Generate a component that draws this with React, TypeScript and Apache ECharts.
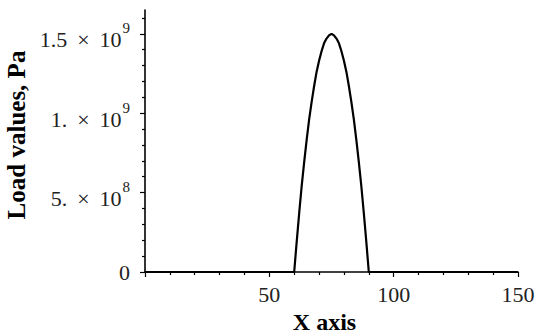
import React, { useEffect, useRef } from "react";
import * as echarts from "echarts";

// Load curve (x position, load in Pa)
const xValues = [0, 60, 61, 62, 63, 64, 65, 66, 67, 68, 69, 70, 71, 72, 73, 74, 75, 76, 77, 78, 79, 80, 81, 82, 83, 84, 85, 86, 87, 88, 89, 90, 150];
const loadValues = [
  0, 0, 0.19e9, 0.37e9, 0.54e9, 0.69e9, 0.83e9, 0.96e9, 1.07e9, 1.17e9, 1.26e9, 1.33e9, 1.39e9, 1.44e9, 1.47e9, 1.49e9, 1.5e9,
  1.49e9, 1.47e9, 1.44e9, 1.39e9, 1.33e9, 1.26e9, 1.17e9, 1.07e9, 0.96e9, 0.83e9, 0.69e9, 0.54e9, 0.37e9, 0.19e9, 0, 0,
];

// Axis ticks and labels
const xMin = 0;
const xMax = 150;
const xInterval = 50;
const yMin = 0;
const yMax = 1.65e9;
const yMajorTicks = [0, 5e8, 1e9, 1.5e9];
const yMinorTicks = [1e8, 2e8, 3e8, 4e8, 6e8, 7e8, 8e8, 9e8, 1.1e9, 1.2e9, 1.3e9, 1.4e9, 1.6e9];
const yTickMantissa = ["0", "5.", "1.", "1.5"];
const yTickExponent = ["", "8", "9", "9"];

const xTitle = "X axis";
const yTitle = "Load values, Pa";

const SERIF = "'Liberation Serif', 'Times New Roman', serif";

export default function App() {
  const ref = useRef<HTMLDivElement>(null);

  useEffect(() => {
    if (!ref.current) return;
    const chart = echarts.init(ref.current, null, { renderer: "svg" });
    const data = xValues.map((x, i) => [x, loadValues[i]]);

    chart.setOption({
      animation: false,
      backgroundColor: "#ffffff",
      grid: { left: 145, right: 20, top: 10, bottom: 64, containLabel: false, outerBoundsMode: "none" },
      xAxis: {
        type: "value",
        min: xMin,
        max: xMax,
        interval: xInterval,
        name: xTitle,
        nameLocation: "middle",
        nameGap: 37,
        nameTextStyle: { fontFamily: SERIF, fontSize: 24, fontWeight: "bold", color: "#000", padding: [0, 14, 0, 0] },
        axisLine: { show: true, onZero: false, lineStyle: { color: "#000", width: 1.6 } },
        axisTick: { show: true, inside: false, length: 5, lineStyle: { color: "#000", width: 1.2 } },
        minorTick: { show: true, splitNumber: 5, length: 3, lineStyle: { color: "#000", width: 1.2 } },
        splitLine: { show: false },
        axisLabel: {
          showMinLabel: false,
          margin: 11,
          fontFamily: SERIF,
          fontSize: 22,
          color: "#222",
        },
      },
      yAxis: [
        {
          type: "value",
          position: "left",
          min: yMin,
          max: yMax,
          name: yTitle,
          nameLocation: "middle",
          nameGap: 114,
          nameRotate: 90,
          nameTextStyle: { fontFamily: SERIF, fontSize: 25, fontWeight: "bold", color: "#000", padding: [0, 0, 0, 12] },
          axisLine: { show: true, onZero: false, lineStyle: { color: "#000", width: 1.6 } },
          axisTick: { show: true, inside: false, length: 5, customValues: yMajorTicks, lineStyle: { color: "#000", width: 1.2 } },
          splitLine: { show: false },
          axisLabel: {
            margin: 15,
            customValues: yMajorTicks,
            fontFamily: SERIF,
            fontSize: 22,
            color: "#222",
            formatter: (v: number) => {
              const i = yMajorTicks.findIndex((t) => Math.abs(t - v) < 1);
              if (i < 0) return "";
              if (!yTickExponent[i]) return yTickMantissa[i];
              return `{m|${yTickMantissa[i]} \u2009×\u2009 10}{s|${yTickExponent[i]}}`;
            },
            rich: {
              m: { fontFamily: SERIF, fontSize: 22, color: "#222", verticalAlign: "bottom" },
              s: { fontFamily: SERIF, fontSize: 15, color: "#222", verticalAlign: "top", padding: [4, 0, 15, 1] },
            },
          },
        },
        {
          type: "value",
          position: "left",
          min: yMin,
          max: yMax,
          axisLine: { show: false },
          axisTick: { show: true, inside: false, length: 3, customValues: yMinorTicks, lineStyle: { color: "#000", width: 1.2 } },
          axisLabel: { show: false },
          splitLine: { show: false },
        },
      ],
      series: [
        {
          type: "line",
          data,
          yAxisIndex: 0,
          showSymbol: false,
          symbol: "none",
          smooth: false,
          lineStyle: { color: "#000", width: 2.2 },
          z: 3,
        },
      ],
    });

    return () => chart.dispose();
  }, []);

  return <div ref={ref} style={{ position: "fixed", left: 0, top: 0, width: 538, height: 336, background: "#fff" }} />;
}
